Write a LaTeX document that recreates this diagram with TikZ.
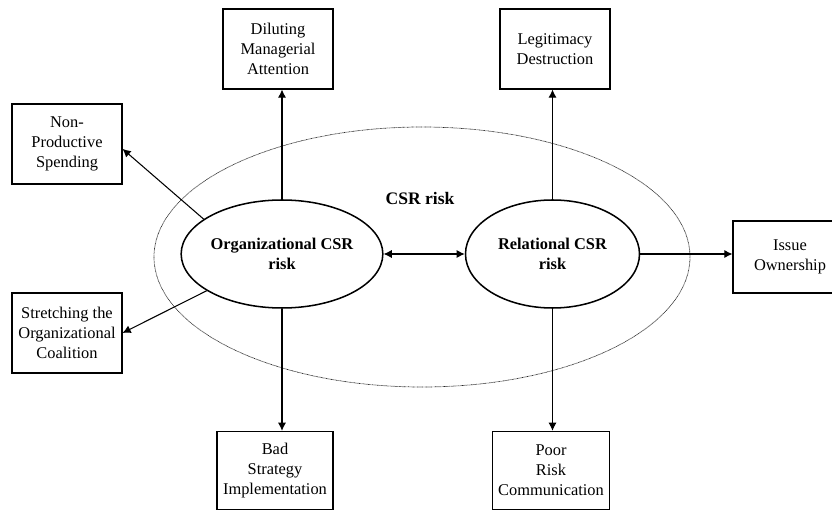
\documentclass[tikz,border=0pt]{standalone}
\usepackage{fontspec}
\setmainfont{Liberation Serif}
\usetikzlibrary{shapes.geometric, arrows.meta}
\tikzstyle{risk} = [ellipse, minimum width=5.22cm, minimum height=3.24cm, inner sep=0pt, draw=black, line width=1.3pt, font=\fontsize{14}{17}\selectfont\bfseries, align=center]
\tikzstyle{effect} = [rectangle, minimum width=3.3cm, minimum height=2.4cm, inner sep=0pt, draw=black, line width=0.9pt, font=\fontsize{14}{17}\selectfont, align=center]
\tikzstyle{zone} = [ellipse, minimum width=16.08cm, minimum height=7.8cm, inner sep=0pt, draw=black!85, line width=0.6pt, dash pattern=on 0.6pt off 0.5pt]
\tikzstyle{arrow} = [line width=0.9pt, -{Latex[length=7pt,width=7pt]}]
\tikzstyle{twoway} = [line width=0.9pt, {Latex[length=7pt,width=7pt]}-{Latex[length=7pt,width=7pt]}]

\begin{document}
\begin{tikzpicture}[node distance=2cm]

\clip (-8.46,7.62) rectangle (16.5,-7.74);

\node (zone) [zone] at (4.2,-0.09) {};
\node (csr) [above of=zone, xshift=-0.06cm, yshift=-0.23cm, font=\fontsize{15}{18}\selectfont\bfseries] {CSR risk};

\node (org) [risk] at (0,0) {Organizational CSR\\risk};
\node (rel) [risk, right of=org, xshift=6.115cm] {Relational CSR\\risk};

\node (dil) [effect, above of=org, xshift=-0.12cm, yshift=4.15cm] {Diluting\\Managerial\\Attention};
\node (leg) [effect, above of=rel, xshift=0.075cm, yshift=4.15cm] {Legitimacy\\Destruction};
\node (np) [effect, left of=org, xshift=-4.45cm, yshift=3.3cm] {Non-\\Productive\\Spending};
\node (st) [effect, left of=org, xshift=-4.45cm, yshift=-2.37cm] {Stretching the\\Organizational\\Coalition};
\node (bad) [effect, below of=org, xshift=-0.21cm, yshift=-4.495cm, minimum width=3.48cm, minimum height=2.35cm] {Bad\\Strategy\\Implementation};
\node (poor) [effect, below of=rel, xshift=-0.045cm, yshift=-4.495cm, minimum width=3.5cm, minimum height=2.35cm] {Poor\\Risk\\Communication};
\node (iss) [effect, right of=rel, xshift=5.125cm, yshift=-0.09cm, minimum width=3.42cm, minimum height=2.16cm] {Issue\\Ownership};

\draw [arrow] (org.north) -- (org.north |- dil.south);
\draw [arrow] (rel.north) -- (rel.north |- leg.south);
\draw [arrow] (org.156) -- (np.-5);
\draw [arrow] (org.206) -- (st.east);
\draw [arrow] (org.south) -- (org.south |- bad.north);
\draw [arrow] (rel.south) -- (rel.south |- poor.north);
\draw [arrow] (rel.east) -- (rel.east -| iss.west);
\draw [twoway] (org.east) -- (rel.west);

\end{tikzpicture}
\end{document}
